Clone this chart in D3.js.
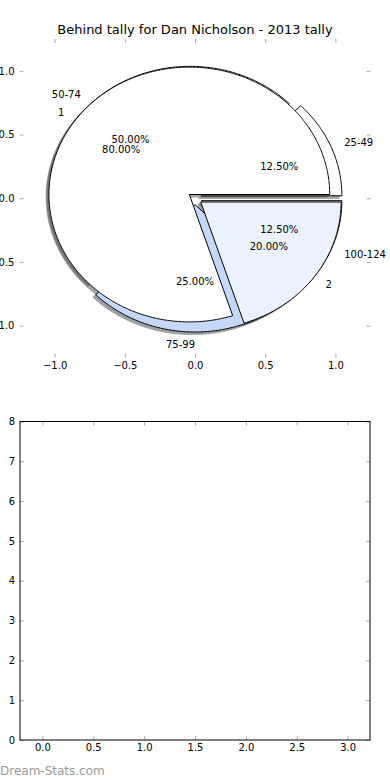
<!DOCTYPE html>
<html>
<head>
<meta charset="utf-8">
<script src="https://cdn.jsdelivr.net/npm/d3@7"></script>
<style>
  body { margin: 0; background: #fff; }
  svg { display: block; font-family: "DejaVu Sans", sans-serif; }
</style>
</head>
<body>
<svg width="390" height="780"></svg>
<script>
// data
const chartTitle = "Behind tally for Dan Nicholson - 2013 tally";
const rangeLabels = ["25-49", "50-74", "75-99", "100-124"];
const rangeCounts = [1, 4, 2, 1];
const rangeColors = ["#ffffff", "#ffffff", "#c6d8f8", "#ebf1fd"];
const tallyLabels = ["1", "2"];
const tallyCounts = [4, 1];
const tallyColors = ["#ffffff", "#ebf1fd"];
const pieTicks = [-1.0, -0.5, 0.0, 0.5, 1.0];
const barXTicks = [0, 0.5, 1, 1.5, 2, 2.5, 3];
const barYTicks = [0, 1, 2, 3, 4, 5, 6, 7, 8];
const explodeBy = 0.05;
const watermark = "Dream-Stats.com";

var svg = d3.select("svg");

// top (pie) axes, frame off, limits +-1.25 and no equal aspect
var px = d3.scaleLinear().domain([-1.25, 1.25]).range([19.5, 370.5]);
var py = d3.scaleLinear().domain([-1.25, 1.25]).range([357.5, 39]);

// bottom (empty) axes
var bx = d3.scaleLinear().domain([-0.22, 3.22]).range([20, 370]);
var by = d3.scaleLinear().domain([0, 8]).range([740, 421.5]);

function styleAxis(g) {
  g.attr("font-family", "DejaVu Sans").attr("font-size", 10);
  g.select(".domain").remove();
  g.selectAll(".tick line").attr("stroke", "#aaa").attr("stroke-width", 1);
  g.selectAll(".tick text").attr("fill", "#000");
}

svg.append("text")
  .attr("x", 195).attr("y", 34)
  .attr("text-anchor", "middle")
  .attr("font-size", 13)
  .text(chartTitle);

// pie axes ticks on four sides
svg.append("g").attr("transform", "translate(0,357.5)")
  .call(d3.axisBottom(px).tickValues(pieTicks).tickFormat(d3.format(".1f")).tickSize(-4).tickPadding(4))
  .call(styleAxis);
svg.append("g").attr("transform", "translate(0,39)")
  .call(d3.axisTop(px).tickValues(pieTicks).tickFormat("").tickSize(-4))
  .call(styleAxis);
svg.append("g").attr("transform", "translate(19.5,0)")
  .call(d3.axisLeft(py).tickValues(pieTicks).tickFormat(d3.format(".1f")).tickSize(-4).tickPadding(5))
  .call(styleAxis);
svg.append("g").attr("transform", "translate(370.5,0)")
  .call(d3.axisRight(py).tickValues(pieTicks).tickFormat("").tickSize(-4))
  .call(styleAxis);

// pies
var pieLayout = d3.pie().sort(null).startAngle(0).endAngle(2 * Math.PI);
var line = d3.line().x(d => px(d[0])).y(d => py(d[1]));

function wedgePoints(cx, cy, a0, a1) {
  var pts = [[cx, cy]];
  var n = Math.max(6, Math.ceil((a1 - a0) / 0.01));
  for (var i = 0; i <= n; i++) {
    var t = a0 + (a1 - a0) * i / n;
    pts.push([cx + Math.cos(t), cy + Math.sin(t)]);
  }
  return pts;
}

function buildPie(counts, labels, colors) {
  var total = d3.sum(counts);
  return pieLayout(counts).map((a, i) => {
    var mid = (a.startAngle + a.endAngle) / 2;
    var cx = explodeBy * Math.cos(mid), cy = explodeBy * Math.sin(mid);
    return {
      label: labels[i], color: colors[i], mid: mid, cx: cx, cy: cy,
      pct: d3.format(".2f")(100 * counts[i] / total) + "%",
      pts: wedgePoints(cx, cy, a.startAngle, a.endAngle)
    };
  });
}

var pies = [buildPie(rangeCounts, rangeLabels, rangeColors),
            buildPie(tallyCounts, tallyLabels, tallyColors)];
var allWedges = pies[0].concat(pies[1]);

function shade(c) {
  var r = d3.rgb(c);
  return d3.rgb(r.r * 0.3, r.g * 0.3, r.b * 0.3).toString();
}

// shadows go under every wedge
svg.append("g").selectAll("path")
  .data(allWedges).enter().append("path")
  .attr("d", d => line(d.pts.map(p => [p[0] - 0.02, p[1] - 0.02])) + "Z")
  .attr("fill", d => shade(d.color))
  .attr("stroke", d => shade(d.color))
  .attr("opacity", 0.5);

svg.append("g").selectAll("path")
  .data(allWedges).enter().append("path")
  .attr("d", d => line(d.pts) + "Z")
  .attr("fill", d => d.color)
  .attr("stroke", "#000")
  .attr("stroke-width", 1)
  .attr("stroke-linejoin", "miter");

var txt = svg.append("g").attr("font-size", 10);
txt.selectAll("text.lab")
  .data(allWedges).enter().append("text")
  .attr("x", d => px(d.cx + 1.1 * Math.cos(d.mid)))
  .attr("y", d => py(d.cy + 1.1 * Math.sin(d.mid)))
  .attr("dy", "0.35em")
  .attr("text-anchor", d => Math.cos(d.mid) > 0 ? "start" : "end")
  .text(d => d.label);
txt.selectAll("text.pct")
  .data(allWedges).enter().append("text")
  .attr("x", d => px(d.cx + 0.6 * Math.cos(d.mid)))
  .attr("y", d => py(d.cy + 0.6 * Math.sin(d.mid)))
  .attr("dy", "0.35em")
  .attr("text-anchor", "middle")
  .text(d => d.pct);

// bottom axes
svg.append("g").attr("transform", "translate(0,740)")
  .call(d3.axisBottom(bx).tickValues(barXTicks).tickFormat(d3.format(".1f")).tickSize(-4).tickPadding(4))
  .call(styleAxis);
svg.append("g").attr("transform", "translate(0,421.5)")
  .call(d3.axisTop(bx).tickValues(barXTicks).tickFormat("").tickSize(-4))
  .call(styleAxis);
svg.append("g").attr("transform", "translate(20,0)")
  .call(d3.axisLeft(by).tickValues(barYTicks).tickFormat(d3.format("d")).tickSize(-4).tickPadding(5))
  .call(styleAxis);
svg.append("g").attr("transform", "translate(370,0)")
  .call(d3.axisRight(by).tickValues(barYTicks).tickFormat("").tickSize(-4))
  .call(styleAxis);

svg.append("rect")
  .attr("x", bx.range()[0]).attr("y", by.range()[1])
  .attr("width", bx.range()[1] - bx.range()[0])
  .attr("height", by.range()[0] - by.range()[1])
  .attr("fill", "none").attr("stroke", "#000").attr("stroke-width", 1);

svg.append("text")
  .attr("x", 0).attr("y", 775)
  .attr("font-size", 12)
  .attr("fill", "#999")
  .text(watermark);
</script>
</body>
</html>
